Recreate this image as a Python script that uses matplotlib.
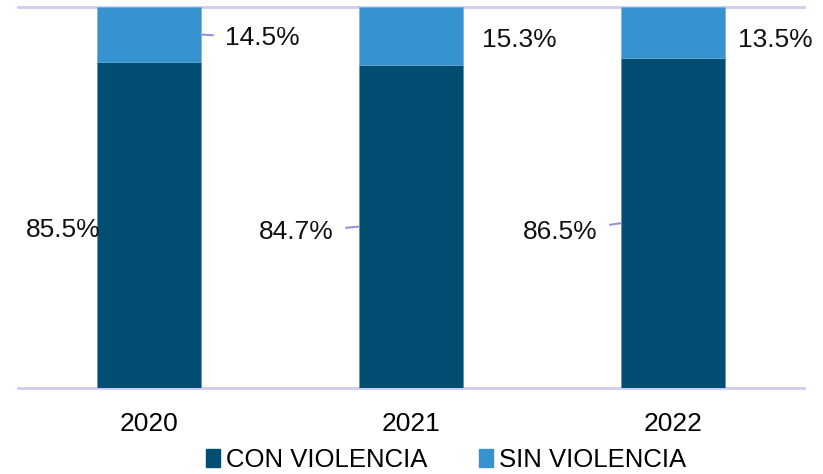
import matplotlib.pyplot as plt
from matplotlib.patches import Patch

years = ["2020", "2021", "2022"]
con_violencia = [85.5, 84.7, 86.5]
sin_violencia = [14.5, 15.3, 13.5]
series_names = ["CON VIOLENCIA", "SIN VIOLENCIA"]

dark = "#024E73"
light = "#3792D0"
grid_col = "#D0CBF0"
leader_col = "#9A90E0"

plt.rcParams["font.family"] = ["Liberation Sans", "DejaVu Sans"]

fig = plt.figure(figsize=(8.23, 4.74), dpi=100)
ax = fig.add_axes([18 / 823, 1 - 388 / 474, 786 / 823, 381 / 474])

x = list(range(len(years)))
w = 0.40
ax.bar(x, con_violencia, width=w, color=dark, edgecolor="#4a8fb8", linewidth=0.4, zorder=2)
ax.bar(x, sin_violencia, width=w, bottom=con_violencia, color=light,
       edgecolor="#6cb0e0", linewidth=0.4, zorder=2)

for yv in (0, 100):
    ax.axhline(yv, color=grid_col, lw=2, zorder=1, clip_on=False)

ax.set_xlim(-0.5, 2.5)
ax.set_ylim(0, 100)
ax.set_yticks([])
ax.set_xticks(x)
ax.set_xticklabels(years, fontsize=19)
ax.tick_params(axis="x", length=0, pad=17)
for s in ax.spines.values():
    s.set_visible(False)

# label placement: (pixel dx, pixel dy, side, leader)
con_layout = [(4, -5, "right", False), (-25, -5.5, "right", True), (-23, -9, "right", True)]
sin_layout = [(24, -3, "left", True), (19, -4, "left", False), (13, -7, "left", False)]

def label(xi, yv, val, lay):
    dx, dy, side, leader = lay
    edge = xi - w / 2 if side == "right" else xi + w / 2
    props = None
    if leader:
        props = dict(arrowstyle="-", color=leader_col, lw=1.5, shrinkA=7, shrinkB=0)
    ax.annotate(f"{val:.1f}%", xy=(edge, yv), xytext=(dx, dy), textcoords="offset pixels",
                ha=side, va="center", fontsize=19, color="#111111",
                arrowprops=props, zorder=3)

for i in x:
    label(i, con_violencia[i] / 2, con_violencia[i], con_layout[i])
    label(i, con_violencia[i] + sin_violencia[i] / 2, sin_violencia[i], sin_layout[i])

handles = [Patch(color=dark), Patch(color=light)]
fig.legend(handles, series_names, loc="center", bbox_to_anchor=(446 / 823, 1 - 460 / 474),
           ncol=2, frameon=False, fontsize=18.5, handlelength=0.55, handleheight=0.75,
           handletextpad=0.25, columnspacing=2.0)

fig.savefig("out.png", dpi=100)
